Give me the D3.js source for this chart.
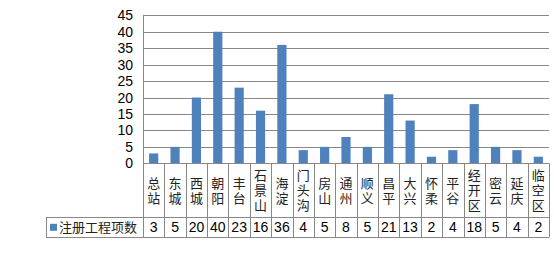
<!DOCTYPE html>
<html>
<head>
<meta charset="utf-8">
<script src="https://cdn.jsdelivr.net/npm/d3@7"></script>
<style>
body { margin: 0; background: #fff; }
svg { display: block; }
</style>
</head>
<body>
<svg id="chart" width="554" height="258"></svg>
<script>
// 各区县注册工程项数
var districts = ["总站", "东城", "西城", "朝阳", "丰台", "石景山", "海淀", "门头沟", "房山", "通州",
    "顺义", "昌平", "大兴", "怀柔", "平谷", "经开区", "密云", "延庆", "临空区"];
var counts = [3, 5, 20, 40, 23, 16, 36, 4, 5, 8, 5, 21, 13, 2, 4, 18, 5, 4, 2];
var seriesName = "注册工程项数";
var yTicks = [0, 5, 10, 15, 20, 25, 30, 35, 40, 45];

function drawChart(){
    let left = 143, right = 549, top = 15.3, bottom = 163.3;
    let catBottom = 217.3, rowBottom = 237.3, tableLeft = 46;
    let gridColor = "#888";
    let cjk = "'Noto Sans CJK SC', sans-serif";
    let num = "'Liberation Sans', Arial, sans-serif";

    let svg = d3.select("#chart");

    let x = d3.scaleBand().domain(d3.range(districts.length)).range([left, right]).padding(0);
    let y = d3.scaleLinear().domain([0, 45]).range([bottom, top]);

    // 网格线
    svg.append("g").selectAll("line")
        .data(yTicks.filter(d => d > 0))
        .join("line")
        .attr("x1", left).attr("x2", right)
        .attr("y1", d => Math.round(y(d)) + 0.5).attr("y2", d => Math.round(y(d)) + 0.5)
        .attr("stroke", gridColor).attr("stroke-width", 1);

    // y轴刻度文字
    svg.append("g").selectAll("text")
        .data(yTicks)
        .join("text")
        .attr("x", 133)
        .attr("y", d => y(d))
        .attr("dy", "0.36em")
        .attr("text-anchor", "end")
        .style("font", "14px " + num)
        .attr("fill", "#000")
        .text(d => d);

    // 柱子
    let bw = x.bandwidth() * 0.43;
    svg.append("g").selectAll("rect")
        .data(counts)
        .join("rect")
        .attr("x", (d, i) => x(i) + (x.bandwidth() - bw) / 2)
        .attr("y", d => y(d))
        .attr("width", bw)
        .attr("height", d => bottom - y(d))
        .attr("fill", "#4F81BD");

    // 坐标轴 & 表格线
    let lines = svg.append("g").attr("stroke", gridColor).attr("stroke-width", 1);
    lines.append("line").attr("x1", left + 0.5).attr("x2", left + 0.5).attr("y1", top).attr("y2", rowBottom);
    lines.append("line").attr("x1", left).attr("x2", right).attr("y1", Math.round(bottom) + 0.5).attr("y2", Math.round(bottom) + 0.5);
    lines.append("line").attr("x1", tableLeft).attr("x2", right).attr("y1", Math.round(catBottom) + 0.5).attr("y2", Math.round(catBottom) + 0.5);
    lines.append("line").attr("x1", tableLeft).attr("x2", right).attr("y1", Math.round(rowBottom) + 0.5).attr("y2", Math.round(rowBottom) + 0.5);
    lines.append("line").attr("x1", tableLeft + 0.5).attr("x2", tableLeft + 0.5).attr("y1", catBottom).attr("y2", rowBottom);
    lines.selectAll("line.col")
        .data(d3.range(1, districts.length + 1))
        .join("line")
        .attr("class", "col")
        .attr("x1", i => Math.round(x(i - 1) + x.bandwidth()) + 0.5)
        .attr("x2", i => Math.round(x(i - 1) + x.bandwidth()) + 0.5)
        .attr("y1", bottom).attr("y2", rowBottom);

    // 类别竖排文字（一个 text 元素，竖排）
    svg.append("g").selectAll("text")
        .data(districts)
        .join("text")
        .attr("x", (d, i) => x(i) + x.bandwidth() / 2)
        .attr("y", (bottom + catBottom) / 2 + 1)
        .attr("text-anchor", "middle")
        .style("writing-mode", "vertical-rl")
        .style("letter-spacing", "2px")
        .style("font", "13px " + cjk)
        .attr("fill", "#222")
        .text(d => d);

    // 数据行
    svg.append("g").selectAll("text")
        .data(counts)
        .join("text")
        .attr("x", (d, i) => x(i) + x.bandwidth() / 2)
        .attr("y", (catBottom + rowBottom) / 2)
        .attr("dy", "0.36em")
        .attr("text-anchor", "middle")
        .style("font", "14px " + num)
        .attr("fill", "#000")
        .text(d => d);

    // 图例
    svg.append("rect")
        .attr("x", 50).attr("y", (catBottom + rowBottom) / 2 - 3.5)
        .attr("width", 7).attr("height", 7)
        .attr("fill", "#4F81BD");
    svg.append("text")
        .attr("x", 59)
        .attr("y", (catBottom + rowBottom) / 2)
        .attr("dy", "0.36em")
        .style("font", "13px " + cjk)
        .attr("fill", "#222")
        .text(seriesName);
}

drawChart();
</script>
</body>
</html>
